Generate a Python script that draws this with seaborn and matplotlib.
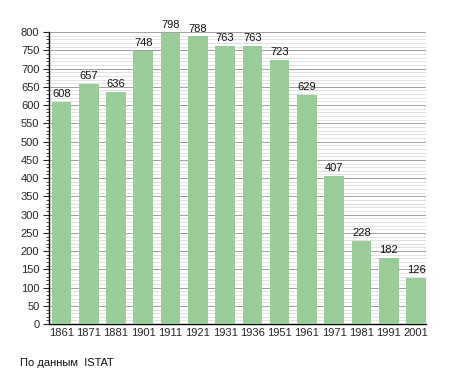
import matplotlib
matplotlib.use("Agg")
import matplotlib.pyplot as plt
import seaborn as sns
import pandas as pd
from matplotlib.ticker import MultipleLocator

# данные
years = ['1861', '1871', '1881', '1901', '1911', '1921', '1931', '1936',
         '1951', '1961', '1971', '1981', '1991', '2001']
population = [608, 657, 636, 748, 798, 788, 763, 763, 723, 629, 407, 228, 182, 126]

df = pd.DataFrame({'year': years, 'pop': population})

sns.set_style('white')
plt.rcParams['font.family'] = ['Liberation Sans', 'DejaVu Sans']

fig = plt.figure(figsize=(4.55, 3.73), dpi=100)
ax = fig.add_axes([0.108, 0.131, 0.828, 0.783])

sns.barplot(data=df, x='year', y='pop', color='#99cc99', saturation=1,
            width=0.72, linewidth=0, ax=ax, zorder=3)

for i, v in enumerate(population):
    ax.text(i, v + 8, str(v), ha='center', va='bottom', fontsize=8, color='#111111')

ax.set_ylim(0, 800)
ax.set_xlim(-0.45, len(years) - 1 + 0.36)
ax.yaxis.set_major_locator(MultipleLocator(50))
ax.yaxis.set_minor_locator(MultipleLocator(10))
ax.grid(which='major', axis='y', color='#a0a0a0', linewidth=0.7, zorder=0)
ax.grid(which='minor', axis='y', color='#dddddd', linewidth=0.6, zorder=0)
ax.set_axisbelow(True)

for s in ['top', 'right']:
    ax.spines[s].set_visible(False)
for s in ['left', 'bottom']:
    ax.spines[s].set_color('black')
    ax.spines[s].set_linewidth(1.0)

ax.tick_params(axis='y', which='major', direction='out', length=4, width=0.8,
               labelsize=8, pad=3, left=True)
ax.tick_params(axis='y', which='minor', direction='out', length=2, width=0.6, left=True)
ax.tick_params(axis='x', length=0, labelsize=8, pad=3)
ax.set_xlabel('')
ax.set_ylabel('')

fig.text(0.044, 0.02, 'По данным  ISTAT', fontsize=8, color='#111111')

fig.savefig('out.png', dpi=100)
